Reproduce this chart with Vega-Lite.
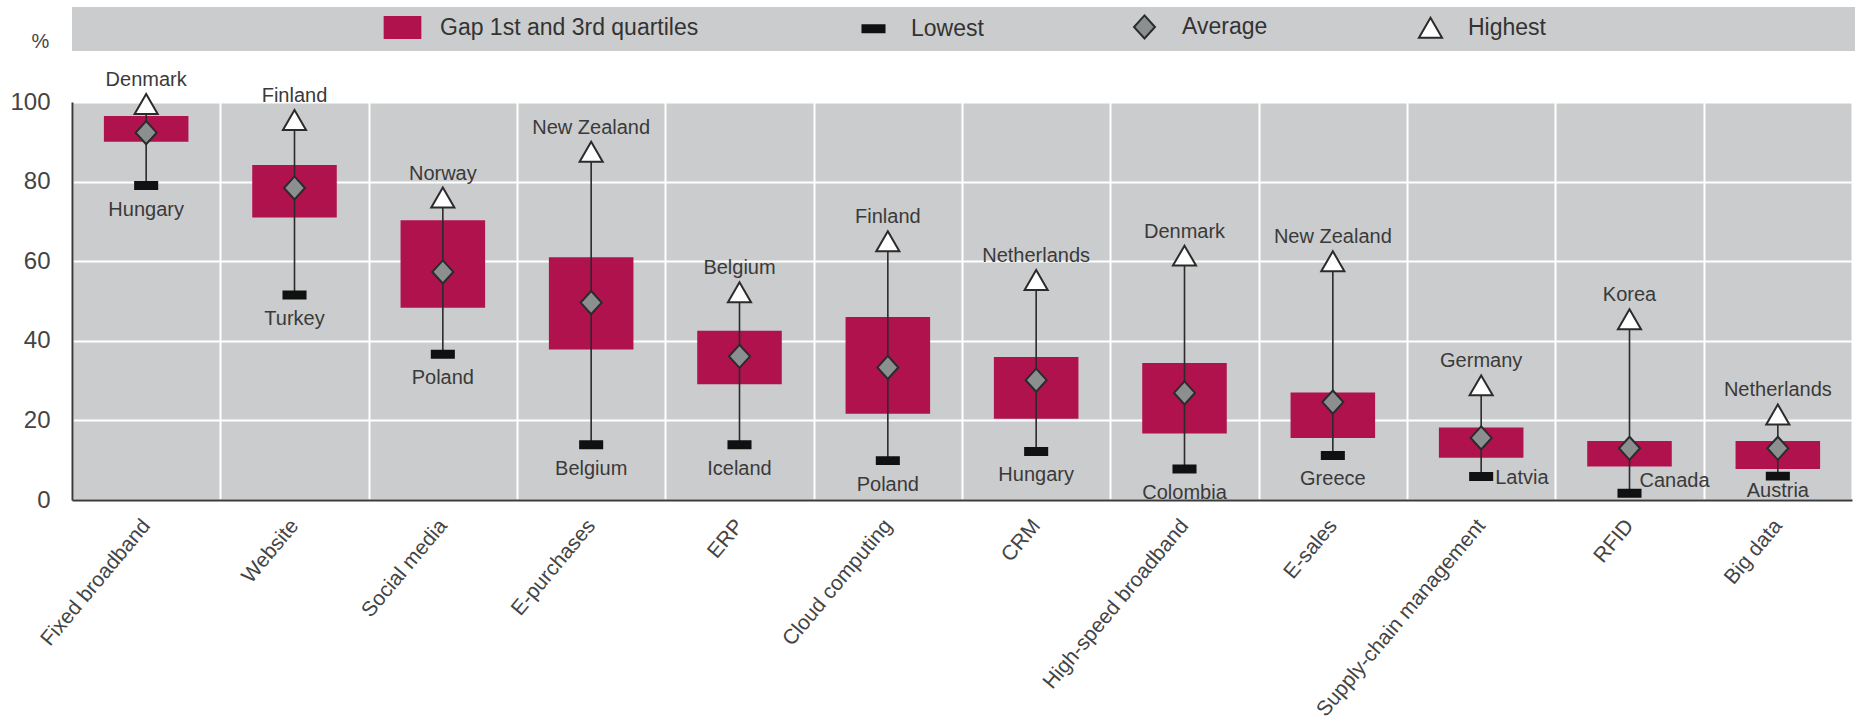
{
  "$schema": "https://vega.github.io/schema/vega-lite/v6.json",
  "width": 1780,
  "height": 398,
  "autosize": "none",
  "padding": {"left": 72, "top": 102, "right": 3, "bottom": 228},
  "background": "white",
  "config": {
    "font": "Liberation Sans",
    "view": {"fill": "#cbcccd", "stroke": null},
    "legend": {
      "orient": "none",
      "legendX": 0,
      "legendY": -95,
      "direction": "horizontal",
      "fillColor": "#cbcccd",
      "padding": 8,
      "columnPadding": 146,
      "labelOffset": 26,
      "labelFontSize": 23,
      "labelColor": "#333333",
      "labelLimit": 2000,
      "symbolSize": 441,
      "symbolStrokeWidth": 2,
      "titleOrient": "left",
      "titlePadding": 311,
      "titleFontSize": 1
    }
  },
  "data": {
    "values": [
      {"category": "Fixed broadband", "q1": 90, "q3": 96.5, "Average": 92.3, "Lowest": 79, "Highest": 99.5, "lowest_country": "Hungary", "highest_country": "Denmark"},
      {"category": "Website", "q1": 71, "q3": 84.2, "Average": 78.4, "Lowest": 51.5, "Highest": 95.5, "lowest_country": "Turkey", "highest_country": "Finland"},
      {"category": "Social media", "q1": 48.3, "q3": 70.3, "Average": 57.3, "Lowest": 36.6, "Highest": 76, "lowest_country": "Poland", "highest_country": "Norway"},
      {"category": "E-purchases", "q1": 37.8, "q3": 61, "Average": 49.6, "Lowest": 13.9, "Highest": 87.5, "lowest_country": "Belgium", "highest_country": "New Zealand"},
      {"category": "ERP", "q1": 29.1, "q3": 42.5, "Average": 36.1, "Lowest": 13.9, "Highest": 52.2, "lowest_country": "Iceland", "highest_country": "Belgium"},
      {"category": "Cloud computing", "q1": 21.7, "q3": 46, "Average": 33.3, "Lowest": 9.9, "Highest": 65, "lowest_country": "Poland", "highest_country": "Finland"},
      {"category": "CRM", "q1": 20.4, "q3": 35.9, "Average": 30.1, "Lowest": 12.2, "Highest": 55.3, "lowest_country": "Hungary", "highest_country": "Netherlands"},
      {"category": "High-speed broadband", "q1": 16.7, "q3": 34.4, "Average": 26.9, "Lowest": 7.8, "Highest": 61.4, "lowest_country": "Colombia", "highest_country": "Denmark"},
      {"category": "E-sales", "q1": 15.6, "q3": 27, "Average": 24.6, "Lowest": 11.2, "Highest": 60, "lowest_country": "Greece", "highest_country": "New Zealand"},
      {"category": "Supply-chain management", "q1": 10.6, "q3": 18.2, "Average": 15.6, "Lowest": 5.9, "Highest": 28.8, "lowest_country": "Latvia", "highest_country": "Germany"},
      {"category": "RFID", "q1": 8.4, "q3": 14.8, "Average": 13, "Lowest": 1.7, "Highest": 45.4, "lowest_country": "Canada", "highest_country": "Korea"},
      {"category": "Big data", "q1": 7.8, "q3": 14.8, "Average": 13, "Lowest": 6, "Highest": 21.5, "lowest_country": "Austria", "highest_country": "Netherlands"}
    ]
  },
  "encoding": {
    "x": {
      "field": "category",
      "type": "nominal",
      "sort": null,
      "scale": {"paddingInner": 0, "paddingOuter": 0},
      "axis": {
        "title": null,
        "labelAngle": -50,
        "labelAlign": "right",
        "labelBaseline": "middle",
        "labelFontSize": 21,
        "labelColor": "#444444",
        "labelPadding": 22,
        "labelLimit": 400,
        "ticks": false,
        "domain": true,
        "domainColor": "#3a3a3a",
        "domainWidth": 2,
        "grid": true,
        "gridColor": "#ffffff",
        "gridWidth": 2,
        "tickBand": "extent"
      }
    }
  },
  "layer": [
    {
      "mark": {"type": "bar", "color": "#b0124e", "width": {"band": 0.57}},
      "encoding": {
        "y": {
          "field": "q1",
          "type": "quantitative",
          "scale": {"domain": [0, 100], "nice": false},
          "axis": {
            "values": [0, 20, 40, 60, 80, 100],
            "grid": true,
            "gridColor": "#ffffff",
            "gridWidth": 2,
            "domain": true,
            "domainColor": "#3a3a3a",
            "domainWidth": 2,
            "ticks": false,
            "labelFontSize": 24,
            "labelColor": "#444444",
            "labelPadding": 22,
            "title": "%",
            "titleAngle": 0,
            "titleX": -32,
            "titleY": -61,
            "titleAlign": "center",
            "titleBaseline": "middle",
            "titleFontSize": 20,
            "titleFontWeight": "normal",
            "titleColor": "#444444"
          }
        },
        "y2": {"field": "q3"}
      }
    },
    {
      "mark": {"type": "rule", "color": "#2b2b2b", "strokeWidth": 1.6},
      "encoding": {
        "y": {"field": "Lowest", "type": "quantitative"},
        "y2": {"field": "Highest"}
      }
    },
    {
      "transform": [{"fold": ["Lowest", "Average", "Highest"], "as": ["measure", "value"]}],
      "mark": {"type": "point", "filled": true, "opacity": 1, "size": 441, "strokeWidth": 2},
      "encoding": {
        "y": {"field": "value", "type": "quantitative"},
        "shape": {
          "field": "measure",
          "type": "nominal",
          "scale": {
            "domain": ["Gap 1st and 3rd quartiles", "Lowest", "Average", "Highest"],
            "range": ["M-1.7,-1L1.7,-1L1.7,1L-1.7,1Z", "M-1.05,-0.33L1.05,-0.33L1.05,0.33L-1.05,0.33Z", "M0,-1.1L1,0L0,1.1L-1,0Z", "M0,-0.95L1.1,0.95L-1.1,0.95Z"]
          },
          "legend": {"title": " ", "labelExpr": "datum.label == 'Highest' ? pad(datum.label, 54, '\u00a0') + '\u200b' : (datum.label == 'Gap 1st and 3rd quartiles' ? datum.label + '\u00a0\u00a0\u200b' : datum.label)"}
        },
        "fill": {
          "field": "measure",
          "type": "nominal",
          "scale": {
            "domain": ["Gap 1st and 3rd quartiles", "Lowest", "Average", "Highest"],
            "range": ["#b0124e", "#111111", "#8c8f90", "#ffffff"]
          },
          "legend": {"title": " ", "labelExpr": "datum.label == 'Highest' ? pad(datum.label, 54, '\u00a0') + '\u200b' : (datum.label == 'Gap 1st and 3rd quartiles' ? datum.label + '\u00a0\u00a0\u200b' : datum.label)"}
        },
        "stroke": {
          "field": "measure",
          "type": "nominal",
          "scale": {
            "domain": ["Gap 1st and 3rd quartiles", "Lowest", "Average", "Highest"],
            "range": ["#b0124e", "#111111", "#2b2b2b", "#2b2b2b"]
          },
          "legend": {"title": " ", "labelExpr": "datum.label == 'Highest' ? pad(datum.label, 54, '\u00a0') + '\u200b' : (datum.label == 'Gap 1st and 3rd quartiles' ? datum.label + '\u00a0\u00a0\u200b' : datum.label)"}
        }
      }
    },
    {
      "mark": {"type": "text", "dy": -24, "fontSize": 20, "color": "#3a3a3a"},
      "encoding": {
        "y": {"field": "Highest", "type": "quantitative"},
        "text": {"field": "highest_country"}
      }
    },
    {
      "transform": [{"filter": "datum.category != 'Supply-chain management' && datum.category != 'RFID' && datum.category != 'Big data'"}],
      "mark": {"type": "text", "dy": 24, "fontSize": 20, "color": "#3a3a3a"},
      "encoding": {
        "y": {"field": "Lowest", "type": "quantitative"},
        "text": {"field": "lowest_country"}
      }
    },
    {
      "transform": [{"filter": "datum.category == 'Supply-chain management'"}],
      "mark": {"type": "text", "align": "left", "dx": 14, "dy": 1, "fontSize": 20, "color": "#3a3a3a"},
      "encoding": {
        "y": {"field": "Lowest", "type": "quantitative"},
        "text": {"field": "lowest_country"}
      }
    },
    {
      "transform": [{"filter": "datum.category == 'RFID'"}],
      "mark": {"type": "text", "align": "left", "dx": 10, "dy": -12, "fontSize": 20, "color": "#3a3a3a"},
      "encoding": {
        "y": {"field": "Lowest", "type": "quantitative"},
        "text": {"field": "lowest_country"}
      }
    },
    {
      "transform": [{"filter": "datum.category == 'Big data'"}],
      "mark": {"type": "text", "dy": 15, "fontSize": 20, "color": "#3a3a3a"},
      "encoding": {
        "y": {"field": "Lowest", "type": "quantitative"},
        "text": {"field": "lowest_country"}
      }
    }
  ]
}
